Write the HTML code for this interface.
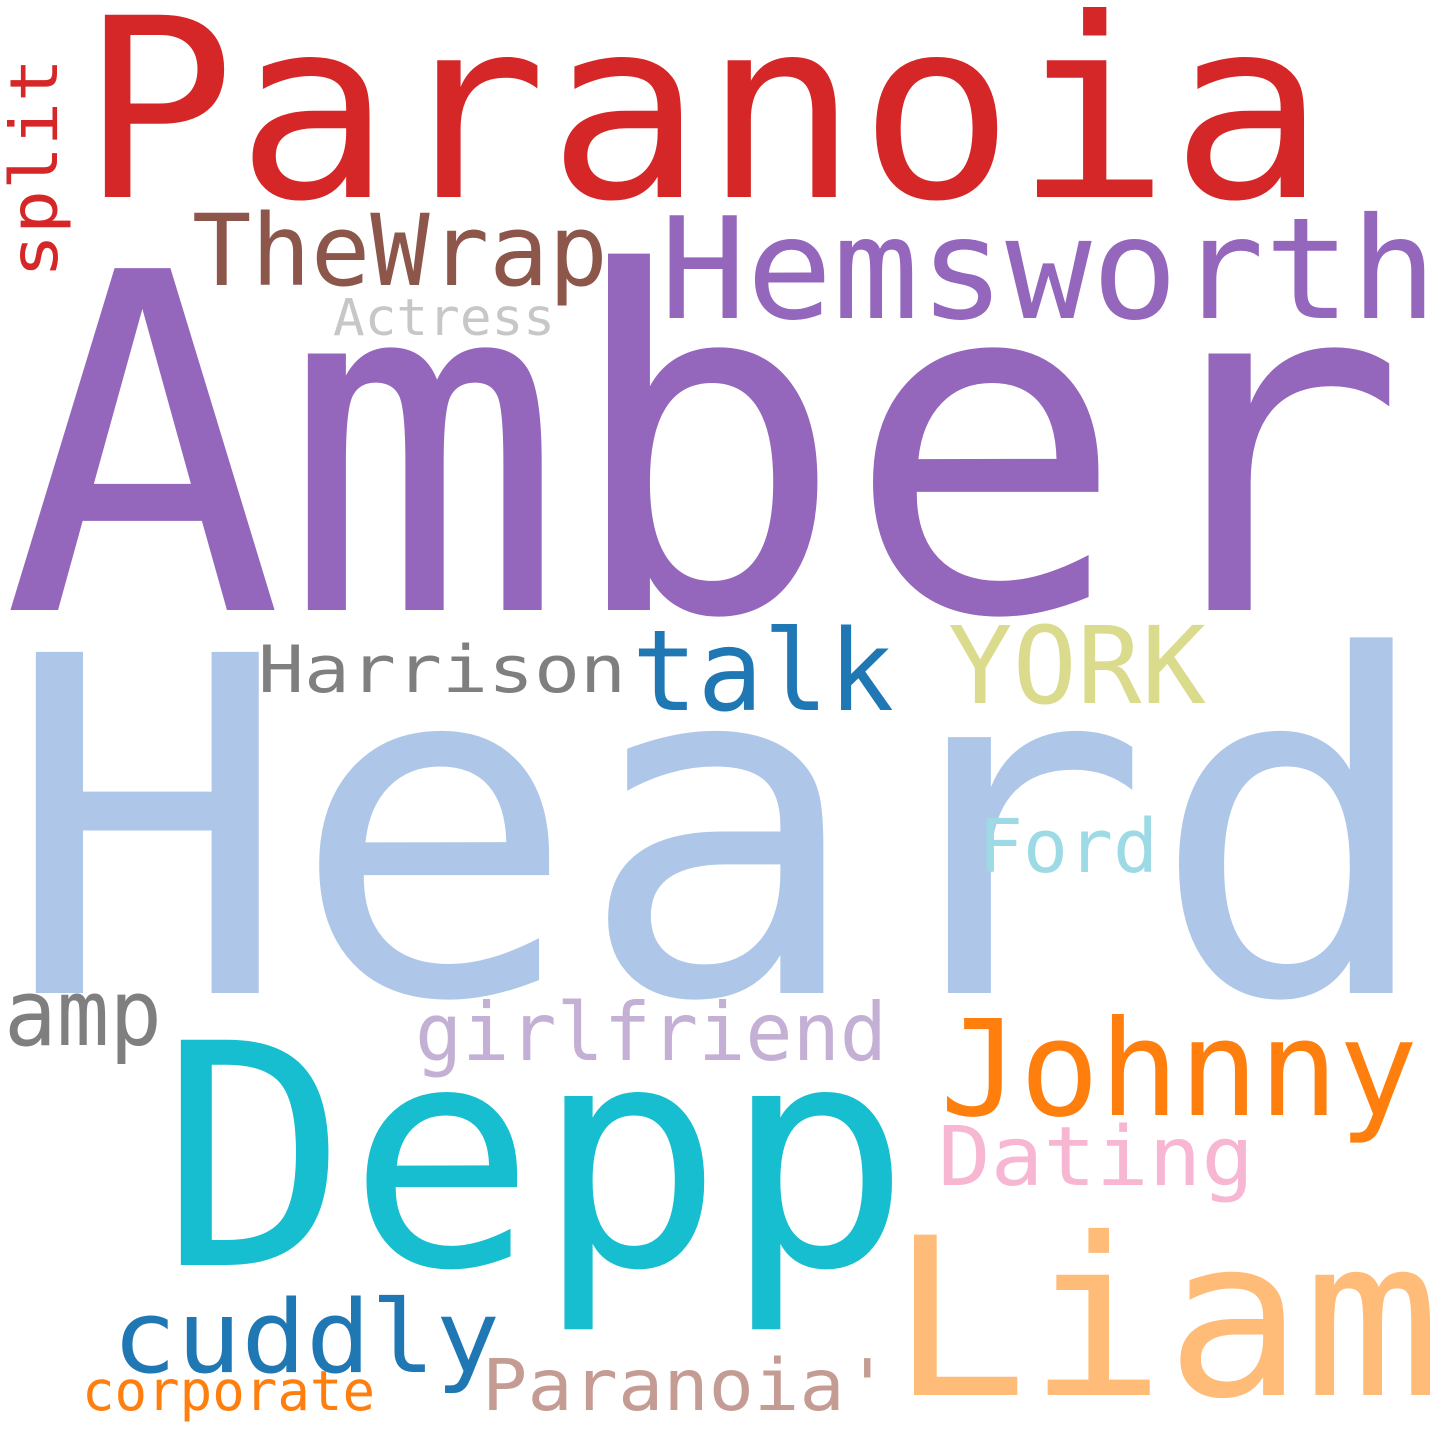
<!DOCTYPE html>
<html><head><meta charset="utf-8">
<style>
html,body{margin:0;padding:0;background:#fff;}
svg{display:block;}
text{font-family:"DejaVu Sans Mono","Liberation Mono",monospace;}
</style></head>
<body>
<svg width="1440" height="1440" viewBox="0 0 1440 1440">
<rect width="1440" height="1440" fill="#fff"/>
<text x="80" y="197" font-size="250" fill="#d62728" textLength="1246" lengthAdjust="spacingAndGlyphs">Paranoia</text>
<text x="2" y="610" font-size="469" fill="#9467bd" textLength="1405" lengthAdjust="spacingAndGlyphs">Amber</text>
<text x="4" y="993" font-size="468" fill="#aec7e8" textLength="1433" lengthAdjust="spacingAndGlyphs">Heard</text>
<text x="160" y="1265" font-size="309" fill="#17becf" textLength="751" lengthAdjust="spacingAndGlyphs">Depp</text>
<text x="660" y="318" font-size="141" fill="#9467bd" textLength="777" lengthAdjust="spacingAndGlyphs">Hemsworth</text>
<text x="192" y="285" font-size="99" fill="#8c564b" textLength="416" lengthAdjust="spacingAndGlyphs">TheWrap</text>
<text x="333" y="335" font-size="51" fill="#c7c7c7" textLength="222" lengthAdjust="spacingAndGlyphs">Actress</text>
<text transform="translate(57,278) rotate(-90)" x="0" y="0" font-size="66" fill="#d62728" textLength="220" lengthAdjust="spacingAndGlyphs">split</text>
<text x="258" y="692" font-size="65" fill="#7f7f7f" textLength="368" lengthAdjust="spacingAndGlyphs">Harrison</text>
<text x="632" y="710" font-size="112" fill="#1f77b4" textLength="262" lengthAdjust="spacingAndGlyphs">talk</text>
<text x="948" y="703" font-size="107" fill="#dbdb8d" textLength="258" lengthAdjust="spacingAndGlyphs">YORK</text>
<text x="978" y="872" font-size="74" fill="#9edae5" textLength="180" lengthAdjust="spacingAndGlyphs">Ford</text>
<text x="4" y="1045" font-size="92" fill="#7f7f7f" textLength="158" lengthAdjust="spacingAndGlyphs">amp</text>
<text x="415" y="1060" font-size="80" fill="#c5b0d5" textLength="472" lengthAdjust="spacingAndGlyphs">girlfriend</text>
<text x="940" y="1115" font-size="133" fill="#ff7f0e" textLength="478" lengthAdjust="spacingAndGlyphs">Johnny</text>
<text x="938" y="1185" font-size="82" fill="#f7b6d2" textLength="316" lengthAdjust="spacingAndGlyphs">Dating</text>
<text x="890" y="1395" font-size="220" fill="#ffbb78" textLength="551" lengthAdjust="spacingAndGlyphs">Liam</text>
<text x="112" y="1372" font-size="101" fill="#1f77b4" textLength="388" lengthAdjust="spacingAndGlyphs">cuddly</text>
<text x="482" y="1410" font-size="71" fill="#c49c94" textLength="408" lengthAdjust="spacingAndGlyphs">Paranoia'</text>
<text x="82" y="1410" font-size="55" fill="#ff7f0e" textLength="293" lengthAdjust="spacingAndGlyphs">corporate</text>
</svg>
</body></html>
